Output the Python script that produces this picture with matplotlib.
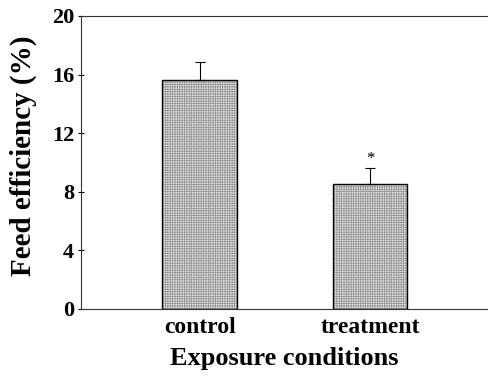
import matplotlib
matplotlib.use("Agg")
import matplotlib.pyplot as plt

categories = ["control", "treatment"]
values = [15.65, 8.55]
errors = [1.2, 1.1]
yticks = [0, 4, 8, 12, 16, 20]
sig_marks = ["", "*"]

plt.rcParams['font.family'] = ['Liberation Serif', 'DejaVu Serif']
plt.rcParams['hatch.linewidth'] = 0.5

fig = plt.figure(figsize=(4.89, 3.77), dpi=100)
ax = fig.add_axes([0.1656, 0.1804, 0.830, 0.7772])

x = list(range(len(categories)))
width = 0.44
ax.bar(x, values, width=width, color='#e2e2e2', edgecolor='none', zorder=2)
plt.rcParams['hatch.color'] = '#8f8f8f'
ax.bar(x, values, width=width, color='none', edgecolor='#8f8f8f', linewidth=0,
       hatch='+++++++', zorder=3)
ax.bar(x, values, width=width, color='none', edgecolor='black', linewidth=1.0, zorder=4)
ax.errorbar(x, values, yerr=[[0, 0], errors], fmt='none', ecolor='black',
            elinewidth=0.8, capsize=3.5, capthick=0.8, zorder=5)
for xi, v, e, m in zip(x, values, errors, sig_marks):
    if m:
        ax.text(xi, v + e + 0.05, m, ha='center', va='bottom', fontsize=12)

ax.set_xlim(-0.699, 1.687)
ax.set_ylim(0, 20)
ax.set_yticks(yticks)
ax.set_yticklabels([str(t) for t in yticks], fontsize=16, fontweight='bold')
ax.set_xticks(x)
ax.set_xticklabels(categories, fontsize=17, fontweight='bold')
ax.tick_params(axis='y', direction='inout', length=4, width=0.8, pad=3)
ax.tick_params(axis='x', direction='in', length=2, width=0.6, pad=6)
ax.spines['right'].set_visible(False)
for s in ['left', 'top', 'bottom']:
    ax.spines[s].set_linewidth(0.8)
    ax.spines[s].set_color('#333333')

ax.set_xlabel("Exposure conditions", fontsize=19, fontweight='bold', labelpad=6)
ax.set_ylabel("Feed efficiency (%)", fontsize=21, fontweight='bold')
ax.yaxis.set_label_coords(-0.108, 0.522)

fig.savefig("out.png", dpi=100)
